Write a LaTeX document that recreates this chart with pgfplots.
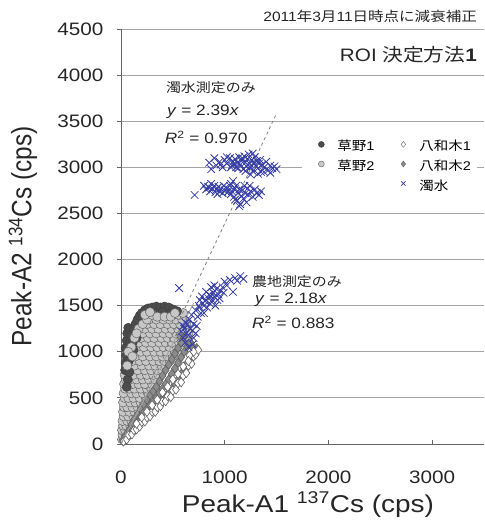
\documentclass[border=0pt]{standalone}
\usepackage{pgfplots}
\pgfplotsset{compat=1.18}
\usepackage{fontspec}
\setmainfont{Liberation Sans}[FakeStretch=1.15]
\newfontfamily\jp{Noto Sans CJK JP}[FakeStretch=1.15]
\newfontfamily\ylab{Liberation Sans}[FakeStretch=0.87]
\definecolor{blueX}{RGB}{52,60,165}
\definecolor{gridc}{RGB}{165,165,165}
\definecolor{axc}{RGB}{100,100,100}
\begin{document}
\begin{tikzpicture}
\begin{axis}[
  at={(0,0)}, anchor=south west,
  scale only axis, width=363pt, height=415pt,
  xmin=0, xmax=3500, ymin=0, ymax=4500,
  clip mode=individual,
  xtick={0,1000,2000,3000}, ytick={0,500,...,4500},
  axis x line*=bottom, axis y line*=left,
  ymajorgrids, grid style={color=gridc, line width=0.9pt},
  axis line style={color=axc, line width=0.9pt},
  xtick align=inside, ytick align=outside,
  major tick length=4pt,
  tick style={color=axc, line width=0.8pt},
  tick label style={font=\fontsize{18}{18}\selectfont, color=black!85},
  xticklabel style={yshift=-23pt},
  yticklabel style={xshift=-10pt},
  /pgf/number format/assume math mode=true,
  /pgf/number format/1000 sep={},
  xlabel={Peak-A1 \textsuperscript{137}Cs (cps)},
  ylabel={\ylab Peak-A2 \textsuperscript{134}Cs (cps)},
  xlabel style={font=\fontsize{24.3}{24.3}\selectfont, color=black!85, at={(axis description cs:0.515,-0.147)}, anchor=center},
  ylabel style={font=\fontsize{28}{28}\selectfont, color=black!85, at={(axis description cs:-0.27,0.5)}, anchor=center},
  legend style={at={(axis description cs:0.499,0.737)}, anchor=north west, draw=none, fill=white,
    font=\fontsize{12.6}{12.6}\selectfont, inner xsep=6pt, inner ysep=2pt,
    nodes={inner sep=0pt, anchor=west},
    /tikz/every even column/.append style={column sep=16pt}, row sep=7.5pt},
  legend columns=2,
  legend cell align=left,
  legend image code/.code={\path[draw=none,fill=none] (0pt,0pt) rectangle (29pt,0.1pt); \draw[#1, mark size=3pt] plot coordinates {(13pt,2pt)};},
]
% 草野2 (base)
\addplot[forget plot, only marks, mark=*, mark size=4.6pt, draw=black!60, fill=black!22, line width=0.5pt] coordinates {
(10,50)(30,50)(15,100)(45,100)(70,100)(10,150)(40,150)(80,150)(20,200)(50,200)(90,200)(110,200)
(15,250)(60,250)(100,250)(130,250)(25,300)(70,300)(120,300)(150,300)(20,350)(80,350)(130,350)(170,350)
(30,400)(60,400)(110,400)(160,400)(200,400)(20,450)(90,450)(140,450)(190,450)(230,450)
(35,500)(70,500)(120,500)(180,500)(240,500)(25,550)(100,550)(150,550)(210,550)(260,550)
(40,600)(80,600)(130,600)(190,600)(250,600)(290,600)(30,650)(110,650)(170,650)(230,650)(300,650)
(45,700)(90,700)(150,700)(210,700)(270,700)(330,700)(35,750)(120,750)(190,750)(250,750)(310,750)(360,750)
(100,800)(160,800)(230,800)(290,800)(350,800)(400,800)(130,850)(200,850)(270,850)(330,850)(390,850)(430,850)
(110,900)(180,900)(240,900)(310,900)(370,900)(420,900)(470,900)
(140,950)(210,950)(280,950)(340,950)(400,950)(450,950)(500,950)
(190,1000)(250,1000)(320,1000)(380,1000)(440,1000)(520,1000)(560,1000)
(150,1050)(220,1050)(290,1050)(350,1050)(410,1050)(470,1050)(540,1050)(600,1050)
(170,1100)(240,1100)(300,1100)(370,1100)(430,1100)(490,1100)(560,1100)(620,1100)
(190,1150)(260,1150)(320,1150)(390,1150)(450,1150)(510,1150)(580,1150)(640,1150)
(210,1200)(280,1200)(340,1200)(410,1200)(470,1200)(530,1200)(600,1200)(650,1200)
(230,1250)(300,1250)(360,1250)(430,1250)(490,1250)(550,1250)(610,1250)
(250,1300)(320,1300)(380,1300)(450,1300)(510,1300)(570,1300)(630,1300)
(270,1350)(340,1350)(410,1350)(470,1350)(530,1350)(590,1350)
(370,1400)(440,1400)(500,1400)(560,1400)(600,1420)};
% 草野1
\addplot[forget plot, only marks, mark=*, mark size=4.6pt, draw=black!75, fill=black!70, line width=0.5pt] coordinates {
(40,800)(45,880)(50,960)(45,1040)(55,1120)(60,1200)(70,1260)(90,1240)(100,1180)(85,1100)(110,1090)(90,980)
(120,1250)(140,1300)(160,1350)(180,1390)(200,1420)(230,1450)(260,1470)(300,1480)(340,1490)(380,1480)(420,1490)
(460,1480)(500,1460)(540,1440)(330,1420)(400,1430)(470,1410)(75,900)(65,700)(55,620)(80,780)(120,1020)(150,1150)};
% 草野2 (over)
\addplot[forget plot, only marks, mark=*, mark size=4.6pt, draw=black!60, fill=black!22, line width=0.5pt] coordinates {
(100,1050)(130,1150)(170,1250)(210,1300)(250,1350)(300,1400)(350,1380)(420,1380)(480,1380)(150,1200)
(60,850)(70,1000)(110,950)(230,1400)(280,1430)(520,1420)};
% 八和木2
\addplot[forget plot, only marks, mark=diamond*, mark size=4.6pt, draw=black!62, fill=black!45, line width=0.6pt] coordinates {
(20,30)(20,45)(40,50)(40,80)(60,70)(60,120)(80,95)(80,150)(100,120)(100,180)(100,210)
(130,150)(130,210)(130,270)(160,190)(160,250)(160,320)(190,220)(190,300)(190,380)
(220,260)(220,340)(220,430)(250,290)(250,380)(250,480)(280,330)(280,420)(280,530)
(310,370)(310,460)(310,570)(340,400)(340,500)(340,620)(370,440)(370,550)(370,680)
(400,480)(400,600)(400,740)(430,520)(430,650)(430,800)(460,560)(460,700)(460,860)
(490,600)(490,760)(490,920)(520,650)(520,820)(520,980)(550,700)(550,880)(550,1040)
(580,760)(580,940)(580,1100)(610,820)(610,1000)(610,1160)(640,880)(640,1060)
(670,940)(670,1100)(700,1000)(730,1040)(690,1060)(560,1180)};
% 八和木1
\addplot[forget plot, only marks, mark=diamond*, mark size=4.6pt, draw=black!62, fill=white, line width=0.6pt] coordinates {
(25,28)(55,50)(75,95)(105,105)(125,150)(150,160)(180,190)(200,240)(230,245)(250,290)
(280,300)(300,350)(330,350)(350,400)(380,410)(400,460)(430,465)(450,520)(480,510)(500,580)
(530,590)(550,660)(580,670)(600,740)(630,770)(650,850)(680,870)(700,950)(720,970)(745,1020)
(700,1000)(660,960)(150,220)(250,350)(350,480)(450,620)(550,760)(650,900)(200,290)(300,420)
(400,560)(500,700)(600,840)};
% fitted lines
\addplot[forget plot, color=black!35, line width=0.9pt] coordinates {(0,0)(700,1526)};
\addplot[forget plot, color=black!50, dashed, line width=0.8pt] coordinates {(0,0)(1500,3585)};
% 濁水
\addplot[forget plot, only marks, mark=x, mark size=5.3pt, color=blueX, line width=0.8pt] coordinates {
(850,3050)(870,2980)(900,3100)(920,3020)(950,3060)(980,3000)(1000,3080)(1020,3040)(1050,3100)(1070,3020)
(1080,3060)(1100,3090)(1110,3000)(1120,3050)(1140,3110)(1150,3030)(1160,3070)(1180,2980)(1190,3120)(1200,3050)
(1210,3010)(1220,3090)(1230,3140)(1240,3040)(1250,3000)(1260,3080)(1270,2960)(1280,3050)(1290,3110)(1300,3020)
(1310,3070)(1320,2990)(1330,3040)(1340,3080)(1350,2950)(1360,3030)(1380,3000)(1400,3060)(1420,2970)(1440,3020)
(1460,2990)(1480,3010)(1500,2980)(1060,3000)(1130,2990)(1170,3100)(1270,3150)(1250,2920)(1320,2930)(1380,2950)
(1440,2940)(960,3030)(1020,3110)(1090,3030)(1200,2960)
(710,2700)(800,2800)(820,2760)(840,2790)(860,2740)(870,2820)(880,2770)(900,2800)(910,2730)(920,2760)
(940,2790)(950,2740)(960,2770)(980,2720)(990,2800)(1000,2750)(1010,2780)(1030,2730)(1040,2760)(1050,2800)
(1060,2710)(1070,2740)(1080,2850)(1090,2680)(1100,2770)(1110,2800)(1120,2640)(1130,2720)(1140,2760)(1150,2600)
(1160,2690)(1170,2750)(1180,2660)(1190,2800)(1200,2720)(1210,2620)(1220,2770)(1230,2700)(1250,2740)(1270,2680)
(1290,2760)(1310,2720)(1330,2700)(1350,2740)(1140,2580)(1100,2650)(1240,2800)(1060,2820)(930,2710)(850,2780)
(560,1690)(600,1150)(610,1250)(620,1100)(630,1200)(640,1300)(650,1180)(660,1350)(670,1250)(680,1400)
(700,1150)(700,1300)(720,1450)(740,1380)(750,1500)(760,1560)(770,1420)(780,1600)(800,1500)(810,1550)
(820,1650)(830,1480)(840,1580)(850,1620)(860,1520)(870,1700)(880,1560)(890,1640)(900,1600)(910,1500)
(920,1680)(940,1620)(950,1580)(960,1660)(980,1700)(1000,1760)(1020,1720)(1050,1780)(1080,1650)(1100,1800)
(1120,1770)(1150,1820)(1180,1790)(620,1320)(580,1220)(690,1080)(730,1280)(800,1420)(900,1720)(650,1050)
(870,1600)(930,1560)(990,1640)(820,1560)(760,1480)(690,1230)(720,1200)(600,1280)};
% legend
\addlegendimage{only marks, mark=*, draw=black!75, fill=black!70}
\addlegendentry{{\jp 草野}1}
\addlegendimage{only marks, mark=diamond*, draw=black!60, fill=white}
\addlegendentry{{\jp 八和木}1}
\addlegendimage{only marks, mark=*, draw=black!60, fill=black!22}
\addlegendentry{{\jp 草野}2}
\addlegendimage{only marks, mark=diamond*, draw=black!60, fill=black!45}
\addlegendentry{{\jp 八和木}2}
\addlegendimage{empty legend}
\addlegendentry{}
\addlegendimage{only marks, mark=x, color=blueX, line width=0.8pt}
\addlegendentry{{\jp 濁水}}
% annotations
\node[anchor=west, font=\fontsize{13}{13}\selectfont\jp, color=black!85] at (axis cs:400,3870) {濁水測定のみ};
\node[anchor=west, font=\fontsize{15}{15}\selectfont, color=black!85] at (axis cs:410,3598) {\textit{y} = 2.39\textit{x}};
\node[anchor=west, font=\fontsize{15}{15}\selectfont, color=black!85] at (axis cs:390,3326) {\textit{R}\textsuperscript{2} = 0.970};
\node[anchor=west, font=\fontsize{13}{13}\selectfont\jp, color=black!85] at (axis cs:1230,1761) {農地測定のみ};
\node[anchor=west, font=\fontsize{15}{15}\selectfont, color=black!85] at (axis cs:1260,1565) {\textit{y} = 2.18\textit{x}};
\node[anchor=west, font=\fontsize{15}{15}\selectfont, color=black!85] at (axis cs:1230,1315) {\textit{R}\textsuperscript{2} = 0.883};
\node[anchor=east, font=\fontsize{18}{18}\selectfont, color=black!85] at (rel axis cs:0.99,0.937) {ROI {\jp 決定方法}\textbf{1}};
\node[anchor=east, font=\fontsize{13.5}{13.5}\selectfont, color=black!85] at (rel axis cs:0.99,1.031) {2011{\jp 年}3{\jp 月}11{\jp 日時点に減衰補正}};
\end{axis}
\pgfresetboundingbox
\path[use as bounding box] (-121pt,-80pt) rectangle (363pt,444pt);
\end{tikzpicture}
\end{document}
